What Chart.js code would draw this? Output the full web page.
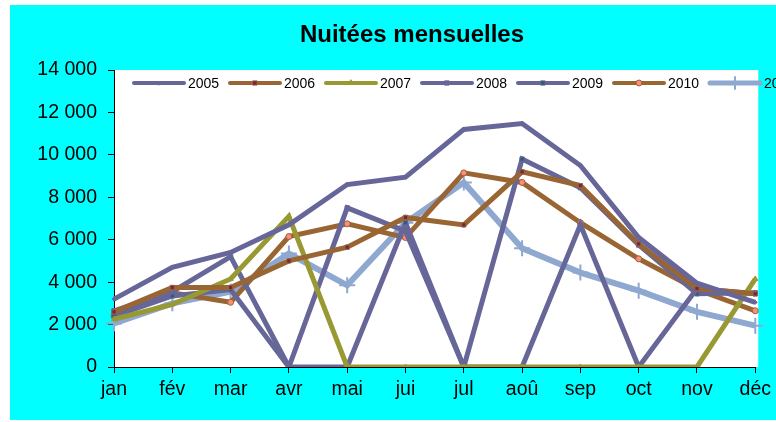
<!DOCTYPE html>
<html>
<head>
<meta charset="utf-8">
<script src="https://cdn.jsdelivr.net/npm/chart.js@4.4.0/dist/chart.umd.min.js"></script>
<style>
  html,body{margin:0;padding:0;background:#fff;overflow:hidden}
  #wrap{position:absolute;left:10px;top:5px;width:766px;height:415px}
</style>
</head>
<body>
<div id="wrap"><canvas id="data_chart"></canvas></div>
<script>
// months and years
const months=['jan','fév','mar','avr','mai','jui','jul','aoû','sep','oct','nov','déc']
const years=['2005','2006','2007','2008','2009','2010','2011']
const yTicks=[0,2000,4000,6000,8000,10000,12000,14000]

// nuitées per month
const n2005=[3200,4700,5400,6700,8600,8950,11200,11480,9500,6100,3950,3050]
const n2006=[2600,3750,3750,5000,5650,7050,6700,9200,8550,5800,3700,3450]
const n2007=[2250,2950,4150,7100,0,0,0,0,0,0,0,4150]
const n2008=[2650,3550,5200,0,7500,6400,0,0,6700,0,3700,3450]
const n2009=[2400,3350,3650,0,0,6800,0,9800,8450,5750,3450,3500]
const n2010=[2400,3500,3050,6150,6750,6100,9150,8700,6800,5100,3650,2650]
const n2011=[2050,3000,3550,5350,3850,6800,8700,5600,4450,3600,2600,1950]

const purple='#666699'
const brown='#996633'
const olive='#999933'
const lightblue='#8FA8D0'

function ds(label,data,color,width,style,radius,fill,border){
  return {
    label:label,
    data:data,
    borderColor:color,
    borderWidth:width,
    pointStyle:style,
    pointRadius:radius,
    pointBackgroundColor:fill,
    pointBorderColor:border,
    pointBorderWidth:1,
    tension:0
  }
}

const datasets=[
  ds(years[0],n2005,purple,5,'rectRot',2,purple,purple),
  ds(years[1],n2006,brown,5,'rect',3,'#7A1F4F',brown),
  ds(years[2],n2007,olive,5,'triangle',3,olive,olive),
  ds(years[3],n2008,purple,5,'rect',3,purple,purple),
  ds(years[4],n2009,purple,5,'rect',3,'#2F5F6F',purple),
  ds(years[5],n2010,brown,5,'circle',3,'#FF8A80',brown),
  ds(years[6],n2011,lightblue,6,'cross',8,lightblue,lightblue)
]
datasets[6].pointBorderWidth=2

function fmt(v){
  return String(v).replace(/\B(?=(\d{3})+(?!\d))/g,' ')
}

const frame={
  id:'frame',
  beforeDraw(chart){
    const c=chart.ctx, a=chart.chartArea
    c.save()
    c.fillStyle='#00FFFF'
    c.fillRect(0,0,chart.width,chart.height)
    c.fillStyle='#fff'
    c.fillRect(a.left,a.top,a.right-a.left+3,a.bottom-a.top)
    c.restore()
  },
  afterDraw(chart){
    const c=chart.ctx, a=chart.chartArea
    c.save()
    // title
    c.fillStyle='#000'
    c.font='bold 24px "Liberation Sans", Arial, sans-serif'
    c.textAlign='center'
    c.textBaseline='alphabetic'
    c.fillText('Nuitées mensuelles',402,37)
    // legend, runs off the right edge like the original
    c.font='14px "Liberation Sans", Arial, sans-serif'
    c.textAlign='left'
    c.textBaseline='middle'
    let x=a.left+20
    const y=a.top+13
    chart.data.datasets.forEach(d=>{
      c.strokeStyle=d.borderColor
      c.lineWidth=d.borderWidth-1
      c.lineCap='round'
      c.beginPath()
      c.moveTo(x,y)
      c.lineTo(x+50,y)
      c.stroke()
      c.fillStyle=d.pointBackgroundColor
      c.strokeStyle=d.pointBorderColor
      c.lineWidth=d.pointBorderWidth
      Chart.helpers.drawPoint(c,{pointStyle:d.pointStyle,radius:Math.min(d.pointRadius,6),borderWidth:d.pointBorderWidth,rotation:0},x+25,y)
      c.fillStyle='#000'
      c.fillText(d.label,x+54,y+1)
      x+=96
    })
    c.restore()
  }
}

new Chart('data_chart',{
  type:'line',
  data:{
    labels:months,
    datasets:datasets
  },
  options:{
    responsive:true,
    maintainAspectRatio:false,
    animation:false,
    layout:{padding:{top:65,right:12,left:0,bottom:0}},
    plugins:{
      legend:{display:false},
      title:{display:false},
      tooltip:{enabled:false}
    },
    scales:{
      x:{
        offset:false,
        grid:{display:true,drawOnChartArea:false,tickLength:6,color:'#000'},
        border:{color:'#000',width:1},
        ticks:{color:'#000',padding:5,maxRotation:0,autoSkip:false,
          font:{family:'"Liberation Sans", Arial, sans-serif',size:19.5}},
        afterFit(scale){scale.height=53}
      },
      y:{
        min:0,
        max:14000,
        grid:{display:true,drawOnChartArea:false,tickLength:6,color:'#000'},
        border:{color:'#000',width:1},
        afterBuildTicks(scale){scale.ticks=yTicks.map(v=>({value:v}))},
        ticks:{color:'#000',padding:11,callback:v=>fmt(v),
          font:{family:'"Liberation Sans", Arial, sans-serif',size:19.5}},
        afterFit(scale){scale.width=104}
      }
    }
  },
  plugins:[frame]
})
</script>
</body>
</html>
